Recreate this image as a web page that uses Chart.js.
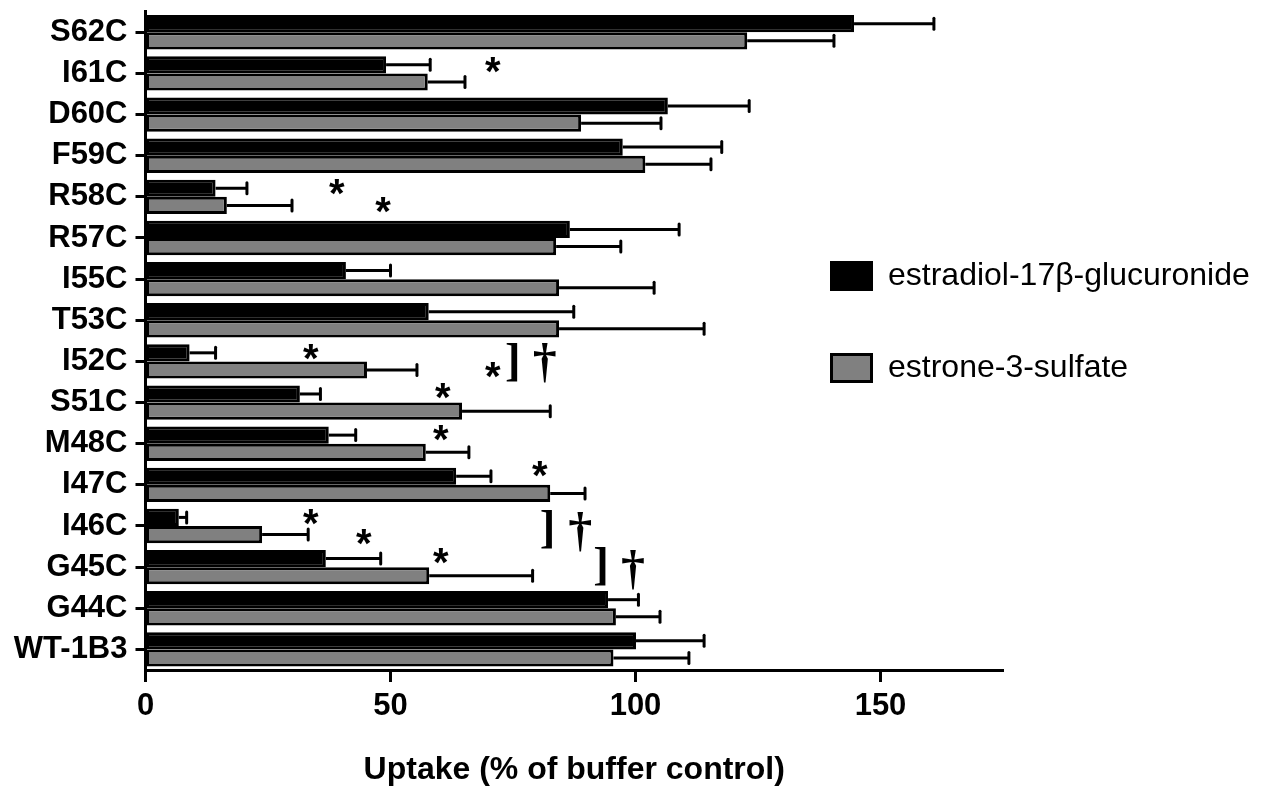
<!DOCTYPE html>
<html>
<head>
<meta charset="utf-8">
<title>OATP1B3 cysteine mutants - uptake</title>
<script src="https://cdn.jsdelivr.net/npm/chart.js@4.4.1/dist/chart.umd.min.js"></script>
<style>
  html, body { margin: 0; padding: 0; background: #fff; }
  canvas { display: block; }
</style>
</head>
<body>
<canvas id="uptakeChart" width="1263" height="794"></canvas>
<script>
// mutants, top to bottom
const mutants = ['S62C', 'I61C', 'D60C', 'F59C', 'R58C', 'R57C', 'I55C', 'T53C',
                 'I52C', 'S51C', 'M48C', 'I47C', 'I46C', 'G45C', 'G44C', 'WT-1B3'];

// estradiol-17b-glucuronide uptake, % of buffer control (mean and upper error)
const e17Mean = [144.6, 49.1, 106.6, 97.4, 14.3, 86.6, 40.9, 57.8,
                 9.0, 31.5, 37.4, 63.4, 6.8, 36.8, 94.4, 100.1];
const e17Err  = [16.3, 9.0, 16.6, 20.2, 6.4, 22.3, 9.1, 29.6,
                 5.3, 4.2, 5.5, 7.1, 1.6, 11.2, 6.2, 13.9];

// estrone-3-sulfate uptake
const e3sMean = [122.8, 57.6, 88.9, 102.0, 16.6, 83.8, 84.4, 84.4,
                 45.2, 64.6, 57.2, 82.6, 23.8, 57.9, 96.0, 95.5];
const e3sErr  = [17.7, 7.6, 16.3, 13.4, 13.3, 13.2, 19.4, 29.6,
                 10.2, 18.0, 8.8, 7.1, 9.4, 21.1, 9.0, 15.4];

const seriesNames = ['estradiol-17\u03B2-glucuronide', 'estrone-3-sulfate'];
const xTicks = [0, 50, 100, 150];

// significance marks as [uptake value, category position]
const stars   = [[70.9, 0.79], [39.1, 3.76], [48.5, 4.20], [33.8, 7.77], [70.9, 8.21],
                 [60.7, 8.73], [60.3, 9.74], [80.5, 10.62], [33.8, 11.78], [44.6, 12.27],
                 [60.3, 12.73]];
const brackets = [[74.8, 8.03], [81.9, 12.08], [92.8, 12.99]];
const daggers  = [[81.5, 8.05], [88.7, 12.15], [99.5, 13.06]];

const SANS = '"Liberation Sans", Arial, Helvetica, sans-serif';
const SERIF = '"Liberation Serif", "Times New Roman", serif';

Chart.defaults.color = '#000';
Chart.defaults.font.family = SANS;

// draw a glyph with its ink box centred on (px, py)
function centredGlyph(ctx, text, px, py) {
  const m = ctx.measureText(text);
  const dx = (m.actualBoundingBoxLeft - m.actualBoundingBoxRight) / 2;
  const dy = (m.actualBoundingBoxAscent - m.actualBoundingBoxDescent) / 2;
  ctx.fillText(text, px + dx, py + dy);
}

const errorBars = {
  id: 'errorBars',
  afterDatasetsDraw(chart) {
    const { ctx } = chart;
    const xs = chart.scales.x;
    ctx.save();
    ctx.strokeStyle = '#000';
    ctx.lineWidth = 3;
    chart.data.datasets.forEach((ds, i) => {
      chart.getDatasetMeta(i).data.forEach((bar, j) => {
        const end = xs.getPixelForValue(ds.data[j] + ds.errors[j]);
        ctx.beginPath();
        ctx.moveTo(bar.x, bar.y);
        ctx.lineTo(end, bar.y);
        ctx.stroke();
        ctx.lineCap = 'round';
        ctx.beginPath();
        ctx.moveTo(end, bar.y - 5.5);
        ctx.lineTo(end, bar.y + 5.5);
        ctx.stroke();
        ctx.lineCap = 'butt';
      });
    });
    ctx.restore();
  }
};

const significance = {
  id: 'significance',
  afterDatasetsDraw(chart) {
    const { ctx } = chart;
    const xs = chart.scales.x, ys = chart.scales.y;
    ctx.save();
    ctx.fillStyle = '#000';
    ctx.textAlign = 'left';
    ctx.textBaseline = 'alphabetic';
    ctx.font = 'bold 40px ' + SANS;
    stars.forEach(([v, c]) => centredGlyph(ctx, '*', xs.getPixelForValue(v), ys.getPixelForValue(c)));
    ctx.font = 'bold 47px ' + SERIF;
    brackets.forEach(([v, c]) => centredGlyph(ctx, ']', xs.getPixelForValue(v), ys.getPixelForValue(c)));
    ctx.font = 'bold 48px ' + SERIF;
    daggers.forEach(([v, c]) => centredGlyph(ctx, '\u2020', xs.getPixelForValue(v), ys.getPixelForValue(c)));
    ctx.restore();
  }
};

// legend sitting to the right of the bars
const sideLegend = {
  id: 'sideLegend',
  afterDraw(chart) {
    const { ctx } = chart;
    const rows = [276, 368];
    ctx.save();
    ctx.font = '32px ' + SANS;
    ctx.textBaseline = 'middle';
    ctx.textAlign = 'left';
    chart.data.datasets.forEach((ds, i) => {
      const y = rows[i];
      ctx.fillStyle = ds.backgroundColor;
      ctx.fillRect(830, y - 15, 43, 30);
      ctx.strokeStyle = '#000';
      ctx.lineWidth = 3;
      ctx.strokeRect(831.5, y - 13.5, 40, 27);
      ctx.fillStyle = '#000';
      ctx.fillText(ds.label, 888, y);
    });
    ctx.restore();
  }
};

const barStyle = {
  borderColor: '#000000',
  borderWidth: 3,
  borderSkipped: false,
  barPercentage: 1.0,
  categoryPercentage: 0.835,
};

new Chart(document.getElementById('uptakeChart'), {
  type: 'bar',
  data: {
    labels: mutants,
    datasets: [
      Object.assign({ label: seriesNames[0], data: e17Mean, errors: e17Err,
                      backgroundColor: '#000000' }, barStyle),
      Object.assign({ label: seriesNames[1], data: e3sMean, errors: e3sErr,
                      backgroundColor: '#808080' }, barStyle),
    ],
  },
  options: {
    indexAxis: 'y',
    responsive: false,
    animation: false,
    devicePixelRatio: 1,
    layout: { padding: { top: 11.7, right: 260, bottom: 0, left: 0 } },
    plugins: {
      legend: { display: false },
      tooltip: { enabled: false },
    },
    scales: {
      x: {
        min: 0,
        max: 175,
        afterFit: (s) => { s.height = 124; s.paddingLeft = 0; s.paddingRight = 0; },
        afterBuildTicks: (s) => { s.ticks = xTicks.map(v => ({ value: v })); },
        ticks: {
          font: { size: 31, weight: 'bold' },
          padding: 6,
        },
        grid: {
          drawOnChartArea: false,
          drawTicks: true,
          tickLength: 12,
          tickWidth: 3,
          tickColor: '#000',
        },
        border: { display: true, color: '#000', width: 3 },
        title: {
          display: true,
          text: 'Uptake (% of buffer control)',
          font: { size: 32, weight: 'bold' },
          padding: { top: 0, bottom: 5 },
        },
      },
      y: {
        afterFit: (s) => { s.width = 145.5; s.paddingTop = 0; s.paddingBottom = 0; },
        ticks: {
          font: { size: 31, weight: 'bold' },
          padding: 8,
        },
        grid: {
          offset: false,
          drawOnChartArea: false,
          drawTicks: true,
          tickLength: 10,
          tickWidth: 3,
          tickColor: '#000',
        },
        border: { display: true, color: '#000', width: 3 },
      },
    },
  },
  plugins: [errorBars, significance, sideLegend],
});
</script>
</body>
</html>
